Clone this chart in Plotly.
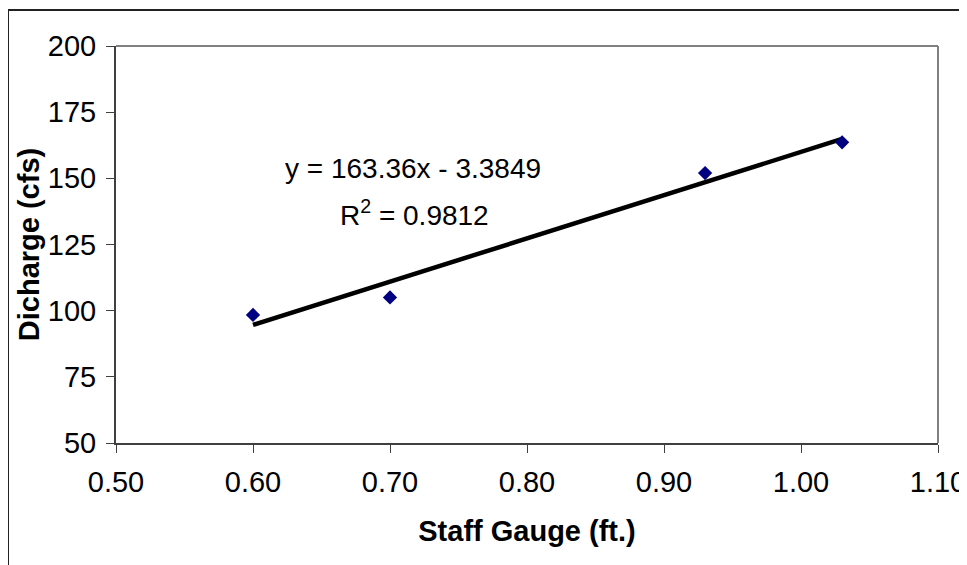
import plotly.graph_objects as go

# Data
staff_gauge = [0.60, 0.70, 0.93, 1.03]
discharge = [98.4, 105.0, 152.0, 163.6]
slope = 163.36
intercept = -3.3849
r_squared = 0.9812
x_ticks = [0.5, 0.6, 0.7, 0.8, 0.9, 1.0, 1.1]
y_ticks = [50, 75, 100, 125, 150, 175, 200]

trend_x = [min(staff_gauge), max(staff_gauge)]
trend_y = [slope * x + intercept for x in trend_x]

# page has an 8px body margin, so figure coords = page coords - 8
W, H = 959, 557
L, R, T, B = 108, 29, 38, 122
pw, ph = W - L - R, H - T - B

def px(xp):
    return (xp - L) / pw

def py(yp):
    return (H - B - yp) / ph

font = "Arial, Liberation Sans, sans-serif"

fig = go.Figure()
fig.add_trace(go.Scatter(x=trend_x, y=trend_y, mode="lines",
                         line=dict(color="black", width=4.5), showlegend=False,
                         hoverinfo="skip"))
fig.add_trace(go.Scatter(x=staff_gauge, y=discharge, mode="markers",
                         marker=dict(symbol="diamond", size=11, color="#000080"),
                         showlegend=False))

fig.update_layout(
    width=W, height=H,
    margin=dict(l=L, r=R, t=T, b=B, pad=0, autoexpand=False),
    paper_bgcolor="white", plot_bgcolor="white",
    font=dict(family=font, size=29, color="black"),
    xaxis=dict(range=[0.5, 1.1], tickvals=x_ticks, tickformat=".2f",
               automargin=False,
               showgrid=False, zeroline=False, showline=True,
               linecolor="#404040", linewidth=2, ticks="outside",
               ticklen=8, tickwidth=1, tickcolor="#404040",
               tickfont=dict(size=29), ticklabelstandoff=4,
               title=dict(text="<b>Staff Gauge (ft.)</b>", font=dict(size=29), standoff=24)),
    yaxis=dict(range=[50, 200], tickvals=y_ticks,
               automargin=False,
               showgrid=False, zeroline=False, showline=True,
               linecolor="#404040", linewidth=2, ticks="outside",
               ticklen=8, tickwidth=1, tickcolor="#404040",
               tickfont=dict(size=29), ticklabelstandoff=4,
               title=dict(text="<b>Dicharge (cfs)</b>", font=dict(size=29), standoff=0)),
    shapes=[
        # plot area top and right border (gray)
        dict(type="line", xref="paper", yref="paper", x0=0, x1=1, y0=1, y1=1,
             line=dict(color="#808080", width=2)),
        dict(type="line", xref="paper", yref="paper", x0=1, x1=1, y0=0, y1=1,
             line=dict(color="#808080", width=2)),
        # outer chart border (top and left visible)
        dict(type="line", xref="paper", yref="paper", x0=px(0), x1=px(970),
             y0=py(2), y1=py(2), line=dict(color="#222222", width=2)),
        dict(type="line", xref="paper", yref="paper", x0=px(0), x1=px(0),
             y0=py(2), y1=py(580), line=dict(color="#222222", width=2)),
    ],
    annotations=[
        dict(x=0.7168, y=153.8, xref="x", yref="y", showarrow=False,
             text=f"y = {slope}x - {abs(intercept)}", font=dict(size=28)),
        dict(x=0.7180, y=137.0, xref="x", yref="y", showarrow=False,
             text=f"R<sup>2</sup> = {r_squared}", font=dict(size=28)),
    ],
)

fig.write_html("out.html")
